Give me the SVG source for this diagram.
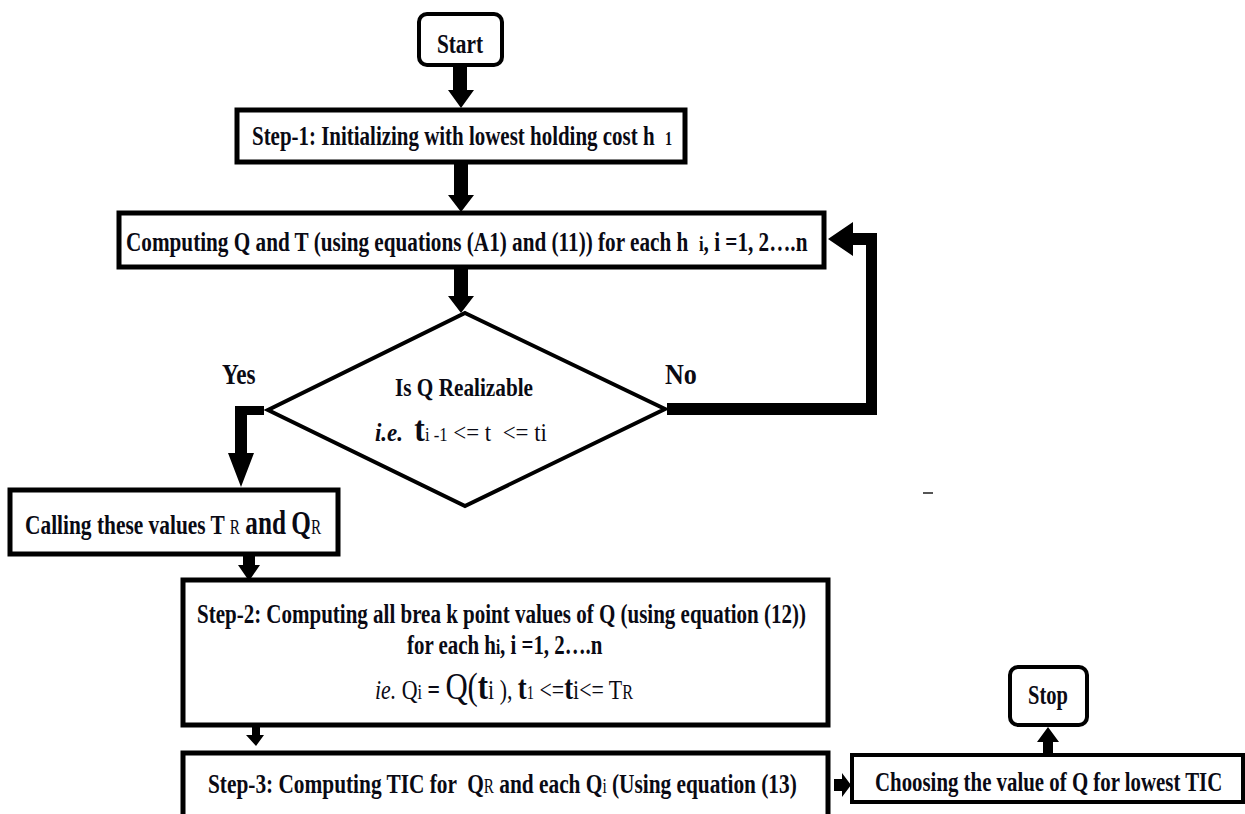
<svg xmlns="http://www.w3.org/2000/svg" width="1245" height="814" viewBox="0 0 1245 814">
<style>
  .box { fill: #ffffff; stroke: #000000; stroke-width: 5; }
  .term { fill: #ffffff; stroke: #000000; stroke-width: 4; }
  .dia { fill: #ffffff; stroke: #000000; stroke-width: 4; stroke-linejoin: miter; }
  .t { font-family: "Liberation Serif", "Times New Roman", serif; font-weight: bold; fill: #0a0a14; }
  .n { font-weight: normal; }
  .arr { fill: #000000; stroke: none; }
</style>
<rect x="0" y="0" width="1245" height="814" fill="#ffffff"/>

<g id="connectors">
  <polygon class="arr" points="453,66 467,66 467,90 474,90 461,108 448,90 453,90"/>
  <polygon class="arr" points="454,163 468,163 468,195 474,195 461,212 448,195 454,195"/>
  <polygon class="arr" points="454,269 468,269 468,296 474,296 461,313 448,296 454,296"/>
  <polygon class="arr" points="264,406 235,406 235,453 228,453 241,487 254,453 247,453 247,415 264,415"/>
  <polygon class="arr" points="667,403 866,403 866,245 853,245 853,256 828,239 853,222 853,233 877,233 877,415 667,415"/>
  <polygon class="arr" points="243,555 255,555 255,565 260,565 249,581 238,565 243,565"/>
  <polygon class="arr" points="252,727 260,727 260,735 264,735 256,746 246,735 252,735"/>
  <polygon class="arr" points="834,779 842,779 842,773 851,785 842,797 842,791 834,791"/>
  <polygon class="arr" points="1043,755 1053,755 1053,742 1059,742 1048,727 1037,742 1043,742"/>
</g>

<g id="start">
  <rect class="term" x="419" y="14" width="83" height="51" rx="8"/>
  <text class="t" transform="translate(460,53) scale(0.79,1)" font-size="27" text-anchor="middle">Start</text>
</g>

<g id="step1">
  <rect class="box" x="237" y="110" width="448" height="52"/>
  <text class="t" xml:space="preserve" transform="translate(252,145) scale(0.748,1)" font-size="28">Step-1: Initializing with lowest holding cost h  <tspan font-size="19">1</tspan></text>
</g>

<g id="compute">
  <rect class="box" x="119" y="213" width="705" height="54"/>
  <text class="t" xml:space="preserve" transform="translate(126,251) scale(0.757,1)" font-size="28">Computing Q and T (using equations (A1) and (11)) for each h  <tspan font-size="22">i</tspan>, i =1, 2….n</text>
</g>

<g id="decision">
  <polygon class="dia" points="465,313 665,409 465,506 268,410"/>
  <text class="t" transform="translate(395,396) scale(0.817,1)" font-size="26">Is Q Realizable</text>
  <text class="t" xml:space="preserve" transform="translate(375,441) scale(0.88,1)" font-size="26"><tspan font-style="italic">i.e.</tspan>  <tspan font-size="36">t</tspan><tspan class="n" font-size="19">i -1</tspan><tspan class="n"> &lt;= t  &lt;= ti</tspan></text>
  <text class="t" transform="translate(222,384) scale(0.8,1)" font-size="29">Yes</text>
  <text class="t" transform="translate(665,384) scale(0.9,1)" font-size="29">No</text>
</g>

<g id="calling">
  <rect class="box" x="10" y="490" width="328" height="64"/>
  <text class="t" transform="translate(25,534) scale(0.764,1)" font-size="28">Calling these values T <tspan class="n" font-size="20">R</tspan> <tspan font-size="33">and</tspan> <tspan font-size="33">Q</tspan><tspan class="n" font-size="20">R</tspan></text>
</g>

<g id="step2">
  <rect class="box" x="183" y="580" width="645" height="145"/>
  <text class="t" transform="translate(197,623) scale(0.75,1)" font-size="28">Step-2: Computing all brea k point values of Q (using equation (12))</text>
  <text class="t" transform="translate(407,654) scale(0.746,1)" font-size="28">for each h<tspan font-size="20">i</tspan>, i =1, 2….n</text>
  <text class="t" transform="translate(375,699) scale(0.81,1)" font-size="27"><tspan class="n" font-style="italic">ie.</tspan> <tspan class="n">Q</tspan><tspan class="n" font-size="20">i</tspan> = <tspan class="n" font-size="38">Q(</tspan><tspan font-size="38">t</tspan><tspan class="n">i ),</tspan> <tspan font-size="33">t</tspan><tspan class="n" font-size="18">1</tspan><tspan class="n"> &lt;=</tspan><tspan font-size="33">t</tspan><tspan class="n">i&lt;= T</tspan><tspan class="n" font-size="20">R</tspan></text>
</g>

<g id="step3">
  <rect class="box" x="183" y="753" width="645" height="80"/>
  <text class="t" xml:space="preserve" transform="translate(208,793) scale(0.762,1)" font-size="28">Step-3: Computing TIC for  Q<tspan class="n" font-size="20">R</tspan> and each Q<tspan class="n" font-size="20">i</tspan> (Using equation (13)</text>
</g>

<g id="choosing">
  <rect class="term" x="852" y="755" width="391" height="47"/>
  <text class="t" transform="translate(875,791) scale(0.745,1)" font-size="28">Choosing the value of Q for lowest TIC</text>
</g>

<g id="stop">
  <rect class="term" x="1010" y="667" width="77" height="58" rx="8"/>
  <text class="t" transform="translate(1048,704) scale(0.76,1)" font-size="27" text-anchor="middle">Stop</text>
</g>

<rect x="923" y="492" width="10" height="2" fill="#555555"/>
</svg>
